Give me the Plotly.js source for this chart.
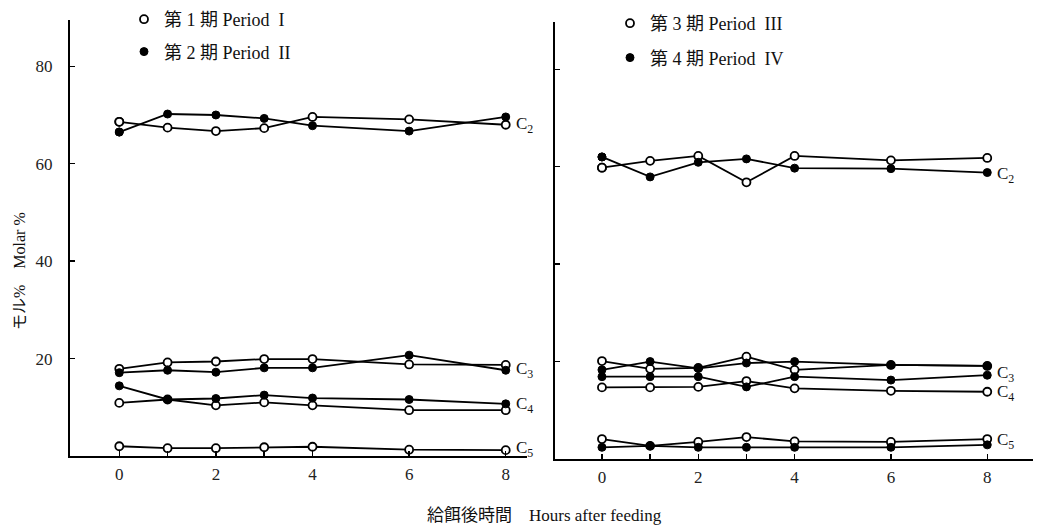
<!DOCTYPE html>
<html><head><meta charset="utf-8">
<script src="https://cdn.plot.ly/plotly-3.0.1.min.js"></script>
<style>html,body{margin:0;padding:0;background:#fff}</style>
</head><body><div id="chart" style="width:1038px;height:527px"></div>
<script>
// ---- data ----
const hours = [0, 1, 2, 3, 4, 6, 8];
const xTickVals = [0, 1, 2, 3, 4, 6, 8];
const xTickText = ['0', '', '2', '', '4', '6', '8'];
const yTickVals = [20, 40, 60, 80];
const yTickText = ['20', '40', '60', '80'];
const seriesNames = ['C<sub>2</sub>', 'C<sub>3</sub>', 'C<sub>4</sub>', 'C<sub>5</sub>'];

// Left panel: Period I (open) and Period II (filled)
const p1_C2 = [68.6, 67.4, 66.7, 67.3, 69.6, 69.1, 68.0];
const p1_C3 = [17.9, 19.2, 19.4, 19.9, 19.9, 18.8, 18.7];
const p1_C4 = [10.9, 11.6, 10.4, 11.0, 10.4, 9.4, 9.4];
const p1_C5 = [2.0, 1.6, 1.6, 1.8, 1.9, 1.3, 1.2];
const p2_C2 = [66.5, 70.2, 70.0, 69.3, 67.8, 66.7, 69.6];
const p2_C3 = [17.1, 17.6, 17.2, 18.1, 18.1, 20.7, 17.6];
const p2_C4 = [14.4, 11.6, 11.8, 12.5, 11.9, 11.6, 10.7];

// Right panel: Period III (open) and Period IV (filled)
const p3_C2 = [59.8, 61.2, 62.2, 56.8, 62.2, 61.3, 61.8];
const p3_C3 = [20.1, 18.5, 18.7, 21.0, 18.3, 19.3, 19.1];
const p3_C4 = [14.7, 14.7, 14.8, 16.0, 14.5, 14.0, 13.8];
const p3_C5 = [4.1, 2.7, 3.5, 4.5, 3.6, 3.5, 4.1];
const p4_C2 = [62.0, 57.9, 60.9, 61.6, 59.7, 59.6, 58.8];
const p4_C3 = [18.3, 20.0, 18.6, 19.7, 20.0, 19.3, 19.1];
const p4_C4 = [16.9, 16.9, 16.9, 14.8, 16.9, 16.2, 17.2];
const p4_C5 = [2.4, 2.7, 2.4, 2.4, 2.4, 2.4, 2.9];

const legendLabels = ['第 1 期 Period  I', '第 2 期 Period  II', '第 3 期 Period  III', '第 4 期 Period  IV'];

// ---- layout helpers (pixel -> paper) ----
const W = 1038, H = 527;
const px = v => v / W;
const py = v => (H - v) / H;
const SERIF = 'Liberation Serif, Noto Sans CJK JP, serif';

const openMarker = {symbol: 'circle', size: 8, color: '#fff', line: {color: '#000', width: 1.8}};
const fillMarker = {symbol: 'circle', size: 8, color: '#000', line: {color: '#000', width: 1}};

function joinSeries(list) {
  const x = [], y = [];
  list.forEach((s, i) => {
    if (i > 0) { x.push(null); y.push(null); }
    hours.forEach((h, j) => { x.push(h); y.push(s[j]); });
  });
  return {x, y};
}

function lineTrace(list, marker, xa, ya) {
  const d = joinSeries(list);
  return {x: d.x, y: d.y, xaxis: xa, yaxis: ya, mode: 'lines+markers', showlegend: false,
    line: {color: '#000', width: 1.8}, marker: marker, hoverinfo: 'skip', cliponaxis: false};
}
function legendTrace(name, series, marker, xa, ya, legend, group) {
  return {x: [hours[0]], y: [series[0]], xaxis: xa, yaxis: ya, mode: 'markers', name: name,
    marker: marker, legend: legend, legendgroup: group, showlegend: true, hoverinfo: 'skip', cliponaxis: false};
}

const traces = [
  lineTrace([p1_C2, p1_C3, p1_C4, p1_C5], openMarker, 'x', 'y'),
  lineTrace([p2_C2, p2_C3, p2_C4], fillMarker, 'x', 'y'),
  lineTrace([p3_C2, p3_C3, p3_C4, p3_C5], openMarker, 'x2', 'y2'),
  lineTrace([p4_C2, p4_C3, p4_C4, p4_C5], fillMarker, 'x2', 'y2'),
  legendTrace(legendLabels[0], p1_C2, openMarker, 'x', 'y', 'legend', 'g1'),
  legendTrace(legendLabels[1], p2_C2, fillMarker, 'x', 'y', 'legend', 'g2'),
  legendTrace(legendLabels[2], p3_C2, openMarker, 'x2', 'y2', 'legend2', 'g3'),
  legendTrace(legendLabels[3], p4_C2, fillMarker, 'x2', 'y2', 'legend2', 'g4')
];

const xCommon = {
  tickmode: 'array', tickvals: xTickVals, ticktext: xTickText,
  ticks: 'inside', ticklen: 5, tickwidth: 1.5, tickcolor: '#000',
  showline: true, linecolor: '#000', linewidth: 2, showgrid: false, zeroline: false,
  tickfont: {family: SERIF, size: 17, color: '#222'}, ticklabelstandoff: 2
};
const yCommon = {
  tickmode: 'array', tickvals: yTickVals, ticktext: yTickText,
  ticks: 'inside', ticklen: 5, tickwidth: 1.5, tickcolor: '#000',
  showline: true, linecolor: '#000', linewidth: 2, showgrid: false, zeroline: false,
  tickfont: {family: SERIF, size: 17, color: '#222'}
};

function endLabels(xa, ya, pairs, shifts) {
  return pairs.map((arr, i) => {
    const last = arr.map(s => s[s.length - 1]);
    const yv = last.reduce((a, b) => a + b, 0) / last.length;
    return {xref: xa, yref: ya, x: hours[hours.length - 1], y: yv, xanchor: 'left', yanchor: 'middle',
      xshift: shifts[i][0], yshift: shifts[i][1], showarrow: false, text: seriesNames[i],
      font: {family: SERIF, size: 17, color: '#111'}};
  });
}

const annotations = [].concat(
  endLabels('x', 'y', [[p1_C2, p2_C2], [p1_C3, p2_C3], [p1_C4, p2_C4], [p1_C5]],
            [[8, -4], [8, -2], [8, 2], [8, 1]]),
  endLabels('x2', 'y2', [[p3_C2, p4_C2], [p3_C3, p4_C3], [p3_C4, p4_C4], [p3_C5, p4_C5]],
            [[8, -10], [8, -8], [8, -10], [8, 1]]),
  [
    {xref: 'paper', yref: 'paper', x: px(20), y: py(271), xanchor: 'center', yanchor: 'middle',
     textangle: -90, showarrow: false,
     text: 'モル%　Molar %', font: {family: SERIF, size: 16, color: '#111'}},
    {xref: 'paper', yref: 'paper', x: px(544), y: py(515), xanchor: 'center', yanchor: 'middle',
     showarrow: false,
     text: '給餌後時間　Hours after feeding', font: {family: SERIF, size: 17, color: '#111'}}
  ]
);

const legendCommon = {
  bgcolor: 'rgba(0,0,0,0)', borderwidth: 0, orientation: 'v', xanchor: 'left', yanchor: 'top',
  font: {family: SERIF, size: 18, color: '#111'}, itemwidth: 30,
  itemclick: false, itemdoubleclick: false
};

const layout = {
  width: W, height: H, margin: {l: 0, r: 0, t: 0, b: 0},
  paper_bgcolor: '#fff', plot_bgcolor: 'rgba(0,0,0,0)',
  xaxis: Object.assign({}, xCommon, {domain: [px(70), px(527)], range: [-1.02, 8.44], anchor: 'y'}),
  yaxis: Object.assign({}, yCommon, {domain: [py(456), py(20)], range: [0, 89.5], anchor: 'x', ticklabelstandoff: 12}),
  xaxis2: Object.assign({}, xCommon, {domain: [px(555), px(1033)], range: [-0.975, 8.95], anchor: 'y2'}),
  yaxis2: Object.assign({}, yCommon, {domain: [py(459), py(22)], range: [0, 89.7], anchor: 'x2', showticklabels: false}),
  legend: Object.assign({}, legendCommon, {x: px(124), y: py(1), tracegroupgap: 6}),
  legend2: Object.assign({}, legendCommon, {x: px(610), y: py(5), tracegroupgap: 8}),
  annotations: annotations
};

Plotly.newPlot('chart', traces, layout, {displayModeBar: false, staticPlot: true});
</script>
</body></html>
